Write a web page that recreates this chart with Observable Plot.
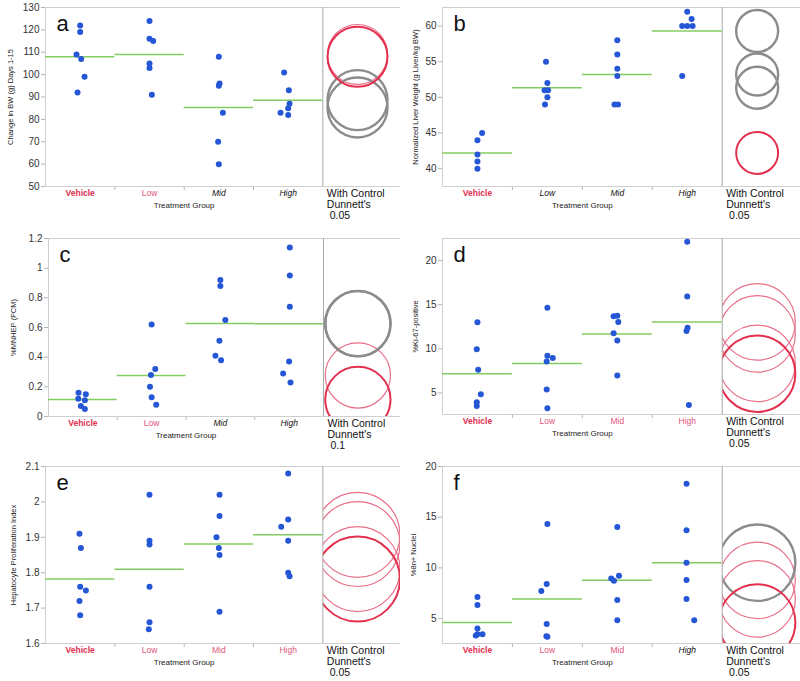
<!DOCTYPE html>
<html><head><meta charset="utf-8">
<script src="https://cdn.jsdelivr.net/npm/d3@7"></script>
<script src="https://cdn.jsdelivr.net/npm/@observablehq/plot@0.6"></script>
<style>
body{margin:0;background:#fff;}
#root{position:relative;width:800px;height:681px;overflow:hidden;background:#fff;}
.panel{position:absolute;}
</style></head><body><div id="root"></div>
<script>
const groups = ["Vehicle", "Low", "Mid", "High"];

// Panel a
const aValues = [[122,119,109,107,99,92],[124,116,115,105,103,91],[108,96,95,83,70,60],[101,93,87,85,83,82]];
const aJitter = [[0,0,-0.053,0.014,0.063,-0.038],[0,0,0.053,0,0,0.034],[0,0.01,0,0.058,-0.01,0],[-0.058,0.01,0.02,0,-0.11,0]];
const aMeans = [108, 109, 85.3, 88.6];
const aStatus = ["control","ns","sig","sig"];
const aTicks = [50,60,70,80,90,100,110,120,130];
const aDomain = [50, 130];
const aRadius = 13.4;

// Panel b
const bValues = [[45,44,42,41,40],[55,52,51,51,50,49],[58,56,54,53,49,49],[62,61,60,60,60,53]];
const bJitter = [[0.067,0,0,0,0],[-0.02,0,-0.04,0.01,0,-0.034],[0,0,0,0,-0.04,0.01],[0,0.063,-0.072,0,0.077,-0.072]];
const bMeans = [42.2, 51.35, 53.2, 59.3];
const bStatus = ["control","sig","sig","sig"];
const bTicks = [40,45,50,55,60];
const bDomain = [37.5, 62.6];
const bRadius = 2.94;

// Panel c
const cValues = [[0.16,0.15,0.12,0.11,0.07,0.05],[0.62,0.32,0.28,0.20,0.13,0.08],[0.92,0.88,0.65,0.51,0.41,0.38],[1.14,0.95,0.74,0.37,0.29,0.23]];
const cJitter = [[-0.063,0.043,-0.067,0.029,-0.029,0.029],[0,0.053,-0.01,-0.024,0,0.067],[0,0,0.072,-0.014,-0.072,0.01],[0.01,0.01,0.01,0,-0.087,0.02]];
const cMeans = [0.115, 0.277, 0.627, 0.625];
const cStatus = ["control","ns","sig","sig"];
const cTicks = [0,0.2,0.4,0.6,0.8,1,1.2];
const cDomain = [0, 1.2];
const cRadius = 0.22;

// Panel d
const dValues = [[13.0,9.96,7.63,4.85,3.95,3.53],[14.66,9.21,8.95,8.57,5.38,3.27],[13.68,13.76,13.05,11.77,10.94,6.99],[22.14,15.94,12.4,12.03,3.65]];
const dJitter = [[0,-0.01,0.01,0.048,-0.01,-0.01],[0,0,0.077,-0.01,-0.01,0],[-0.053,0,0.014,-0.053,0,0],[0,0,0.005,-0.01,0.024]];
const dMeans = [7.18, 8.35, 11.69, 13.05];
const dStatus = ["control","ns","ns","ns"];
const dTicks = [5,10,15,20];
const dDomain = [2.56, 22.5];
const dRadius = 4.33;

// Panel e
const eValues = [[1.91,1.87,1.76,1.75,1.72,1.68],[2.02,1.89,1.88,1.76,1.66,1.64],[2.02,1.96,1.90,1.87,1.85,1.69],[2.08,1.95,1.93,1.89,1.80,1.79]];
const eJitter = [[-0.01,0.01,0,0.082,-0.01,0],[0,0,0,0,0,-0.01],[0.01,0.01,-0.034,0,0.01,0.01],[0,0,-0.1,0,0,0.02]];
const eMeans = [1.782, 1.81, 1.881, 1.907];
const eStatus = ["control","ns","ns","ns"];
const eTicks = [1.6,1.7,1.8,1.9,2,2.1];
const eDomain = [1.6, 2.1];
const eRadius = 0.12;

// Panel f
const fValues = [[7.13,6.35,4.02,3.46,3.46,3.33],[14.32,8.41,7.72,4.47,3.26,3.2],[14.03,9.23,8.94,8.74,6.84,4.84],[18.29,13.70,10.51,8.81,6.94,4.84]];
const fJitter = [[0,0,0,0,0.072,-0.024],[0,-0.01,-0.087,-0.01,-0.014,0],[0,0.024,-0.087,-0.048,0,0],[-0.01,-0.01,-0.01,-0.01,-0.01,0.1]];
const fMeans = [4.62, 6.94, 8.77, 10.51];
const fStatus = ["control","ns","ns","sig"];
const fTicks = [5,10,15,20];
const fDomain = [2.54, 20];
const fRadius = 3.77;

const yLabels = ["Change in BW (g) Days 1-15","Normalized Liver Weight (g Liver/kg BW)","%MNHEP (FCM)","%Ki-67-positive","Hepatocyte Proliferation Index","%8n+ Nuclei"];
const alphaLabels = ["0.05","0.05","0.1","0.05","0.05","0.05"];
const letters = ["a","b","c","d","e","f"];

const BLUE = "#2456d6", GREEN = "#84cc62", RED = "#e3304f", LRED = "#e0557a", NSRED = "#e87089", GRAY = "#8c8c8c";
const FONT = "'Liberation Sans', Arial, sans-serif";

const panels = [
  {values: aValues, jitter: aJitter, means: aMeans, status: aStatus, ticks: aTicks, domain: aDomain, radius: aRadius, left: 0, top: 0, height: 225, ml: 45, mt: 7, mb: 39, labelDx: -35},
  {values: bValues, jitter: bJitter, means: bMeans, status: bStatus, ticks: bTicks, domain: bDomain, radius: bRadius, left: 400, top: 0, height: 225, ml: 42, mt: 7, mb: 39, labelDx: -27},
  {values: cValues, jitter: cJitter, means: cMeans, status: cStatus, ticks: cTicks, domain: cDomain, radius: cRadius, left: 0, top: 225, height: 225, ml: 48, mt: 13, mb: 34, labelDx: -35},
  {values: dValues, jitter: dJitter, means: dMeans, status: dStatus, ticks: dTicks, domain: dDomain, radius: dRadius, left: 400, top: 225, height: 225, ml: 42, mt: 13, mb: 36, labelDx: -27},
  {values: eValues, jitter: eJitter, means: eMeans, status: eStatus, ticks: eTicks, domain: eDomain, radius: eRadius, left: 0, top: 450, height: 231, ml: 45, mt: 16, mb: 38, labelDx: -32},
  {values: fValues, jitter: fJitter, means: fMeans, status: fStatus, ticks: fTicks, domain: fDomain, radius: fRadius, left: 400, top: 450, height: 231, ml: 42, mt: 16, mb: 38, labelDx: -29}
];

const root = document.getElementById("root");

panels.forEach((p, i) => {
  const letter = letters[i];
  const pts = p.values.flatMap((vs, g) => vs.map((v, k) => ({g, x: g + p.jitter[g][k], y: v})));
  const rows = p.means.map((m, g) => ({g, m, status: p.status[g], label: groups[g]}));
  const plotH = p.height - p.mt - p.mb;
  const span = p.domain[1] - p.domain[0];
  const circ = (st, stroke, sw) => Plot.dot(rows.filter(d => d.status === st), {
    x: () => 4, y: "m", r: () => p.radius, stroke, strokeWidth: sw, fill: "none",
    ariaDescription: "comparison circles"
  });
  const labelMark = (st, fill, weight, style) => Plot.text(rows.filter(d => d.status === st), {
    x: "g", text: "label", frameAnchor: "bottom", lineAnchor: "middle", dy: 7,
    fill, fontWeight: weight, fontStyle: style, fontSize: 8.5
  });
  const svg = Plot.plot({
    width: 400, height: p.height,
    marginLeft: p.ml, marginRight: 0, marginTop: p.mt, marginBottom: p.mb,
    style: {fontFamily: FONT, fontSize: "10px", color: "#333", background: "white", overflow: "visible"},
    x: {domain: [-0.5, 4.62], ticks: [0.5, 1.5, 2.5], tickFormat: () => "", tickSize: 4, label: null},
    y: {domain: p.domain, ticks: p.ticks, tickFormat: d => String(d), tickSize: 4, tickPadding: 2, label: null},
    r: {type: "linear", domain: [0, span], range: [0, plotH]},
    marks: [
      circ("ns", NSRED, 1.2),
      circ("sig", GRAY, 2.4),
      circ("control", RED, 2),
      Plot.frame({stroke: "#cfcfcf"}),
      Plot.ruleX([3.5], {stroke: "#a9a9a9"}),
      Plot.ruleY(rows, {y: "m", x1: d => d.g - 0.5, x2: d => d.g + 0.5, stroke: GREEN, strokeWidth: 1.5}),
      Plot.dot(pts, {x: "x", y: "y", r: 3, fill: BLUE}),
      labelMark("control", RED, "bold", "normal"),
      labelMark("ns", LRED, "normal", "normal"),
      labelMark("sig", "#111", "normal", "italic"),
      Plot.text(["Treatment Group"], {x: () => 1.5, text: d => d, frameAnchor: "bottom", lineAnchor: "middle", dy: 18.5, fontSize: 8, fill: "#222"}),
      Plot.text([`With Control\nDunnett's\n\u00a0${alphaLabels[i]}`], {x: () => 3.5, text: d => d, frameAnchor: "bottom", textAnchor: "start", lineAnchor: "top", dx: 4, dy: 2.5, fontSize: 10.5, lineHeight: 1.05, fill: "#111"}),
      Plot.text([letter], {text: d => d, frameAnchor: "top-left", textAnchor: "start", lineAnchor: "top", dx: 11, dy: 8, fontSize: 22, fill: "#111"}),
      Plot.text([yLabels[i]], {text: d => d, frameAnchor: "left", textAnchor: "middle", lineAnchor: "middle", rotate: -90, dx: p.labelDx, fontSize: 7.5, fill: "#222"})
    ]
  });
  // clip comparison circles to the right-hand circle region
  const xs = svg.scale("x");
  const x0 = xs.apply(3.5), x1 = xs.apply(4.62);
  const ns = "http://www.w3.org/2000/svg";
  const defs = document.createElementNS(ns, "defs");
  const cp = document.createElementNS(ns, "clipPath");
  cp.setAttribute("id", "clip-" + letter);
  const rect = document.createElementNS(ns, "rect");
  rect.setAttribute("x", x0); rect.setAttribute("y", p.mt);
  rect.setAttribute("width", x1 - x0); rect.setAttribute("height", plotH);
  cp.appendChild(rect); defs.appendChild(cp); svg.appendChild(defs);
  let gs = svg.querySelectorAll('g[aria-description="comparison circles"]');
  if (!gs.length) gs = Array.from(svg.querySelectorAll('g[aria-label="dot"]')).slice(0, 3);
  gs.forEach(g => g.setAttribute("clip-path", `url(#clip-${letter})`));
  // light gray tick lines
  svg.querySelectorAll('g[aria-label^="y-axis"] line, g[aria-label^="y-axis"] path, g[aria-label^="x-axis"] line, g[aria-label^="x-axis"] path').forEach(el => el.setAttribute("stroke", "#b5b5b5"));
  const div = document.createElement("div");
  div.className = "panel";
  div.style.left = p.left + "px";
  div.style.top = p.top + "px";
  div.appendChild(svg);
  root.appendChild(div);
});
</script>
</body></html>
